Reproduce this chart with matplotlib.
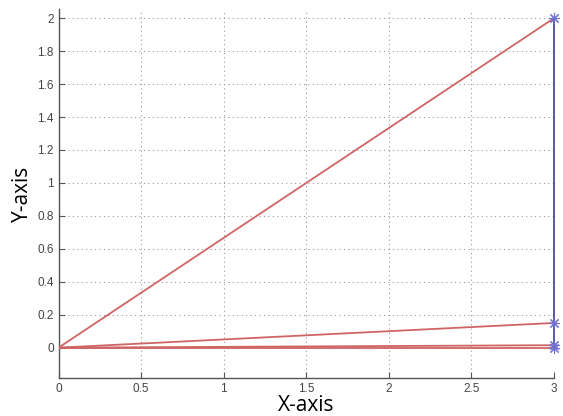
import matplotlib
matplotlib.use("Agg")
import matplotlib.pyplot as plt

# vector end points (all start at origin)
end_x = [3, 3, 3, 3]
end_y = [2.0, 0.15, 0.015, 0.0]
# blue connecting line at x = 3
blue_x = [3, 3, 3, 3]
blue_y = [2.0, 0.15, 0.015, 0.0]

xticks = [0, 0.5, 1, 1.5, 2, 2.5, 3]
xticklabels = ["0", "0.5", "1", "1.5", "2", "2.5", "3"]
yticks = [0, 0.2, 0.4, 0.6, 0.8, 1, 1.2, 1.4, 1.6, 1.8, 2]
yticklabels = ["0", "0.2", "0.4", "0.6", "0.8", "1", "1.2", "1.4", "1.6", "1.8", "2"]

fig = plt.figure(figsize=(5.63, 4.16), dpi=100)
ax = fig.add_axes([0.104, 0.091, 0.880, 0.887])

red = "#cf6464"
for x, y in zip(end_x, end_y):
    ax.plot([0, x], [0, y], color=red, lw=1.3, solid_capstyle="butt", zorder=3)

ax.plot(blue_x, blue_y, color="#2a2aa0", lw=1.1, zorder=4, clip_on=False)
ax.plot(blue_x, blue_y, linestyle="none", marker=(8, 2, 0), markersize=8,
        markeredgecolor="#7070d0", markeredgewidth=0.8, zorder=5, clip_on=False)

ax.set_xlim(0, 3)
ax.set_ylim(-0.185, 2.055)
ax.set_xticks(xticks)
ax.set_xticklabels(xticklabels)
ax.set_yticks(yticks)
ax.set_yticklabels(yticklabels)

ax.grid(True, linestyle=(0, (1, 3)), color="#999999", linewidth=0.8)
for s in ["top", "right"]:
    ax.spines[s].set_visible(False)
for s in ["left", "bottom"]:
    ax.spines[s].set_color("#555555")
    ax.spines[s].set_linewidth(1.0)
ax.tick_params(direction="in", length=4, color="#555555", labelsize=8.5,
               labelcolor="#444444")
for lab in ax.get_xticklabels() + ax.get_yticklabels():
    lab.set_family("Liberation Sans")

ax.set_xlabel("X-axis", fontsize=15, family="Open Sans", labelpad=0)
ax.set_ylabel("Y-axis", fontsize=15, family="Open Sans", labelpad=3)

fig.savefig("out.png", dpi=100)
